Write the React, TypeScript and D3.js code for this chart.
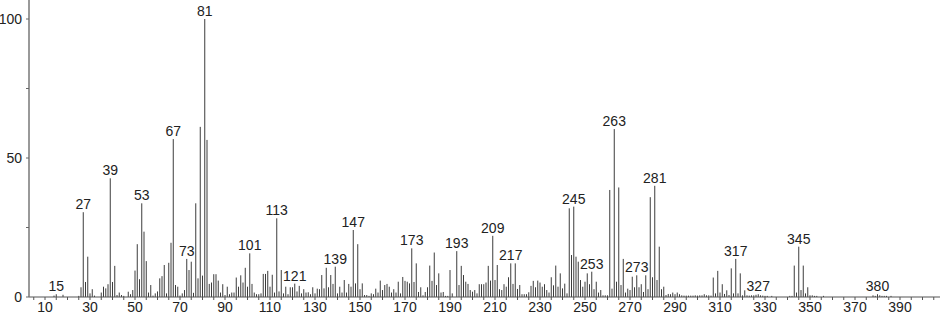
import React from "react";
import * as d3 from "d3";

const mz: number[] = [
  14, 15, 18, 25, 26, 27, 28, 29, 30, 31, 32, 35, 36, 37, 38, 39, 40, 41, 42, 43, 44, 45, 47, 48, 49,
  50, 51, 52, 53, 54, 55, 56, 57, 58, 59, 60, 61, 62, 63, 64, 65, 66, 67, 68, 69, 70, 71, 72, 73, 74,
  75, 76, 77, 78, 79, 80, 81, 82, 83, 84, 85, 86, 87, 88, 89, 90, 91, 92, 93, 94, 95, 96, 97, 98, 99,
  100, 101, 102, 103, 104, 105, 106, 107, 108, 109, 110, 111, 112, 113, 114, 115, 116, 117, 118, 119,
  120, 121, 122, 123, 124, 125, 126, 127, 128, 129, 130, 131, 132, 133, 134, 135, 136, 137, 138, 139,
  140, 141, 142, 143, 144, 145, 146, 147, 148, 149, 150, 151, 152, 153, 154, 155, 156, 157, 158, 159,
  160, 161, 162, 163, 164, 165, 166, 167, 168, 169, 170, 171, 172, 173, 174, 175, 176, 177, 178, 179,
  180, 181, 182, 183, 184, 185, 186, 187, 188, 189, 190, 191, 193, 194, 195, 196, 197, 198, 199,
  200, 201, 202, 203, 204, 205, 206, 207, 208, 209, 210, 211, 212, 213, 214, 215, 216, 217, 218, 219,
  220, 221, 222, 223, 224, 225, 226, 227, 228, 229, 230, 231, 232, 233, 234, 235, 236, 237, 238, 239,
  240, 241, 242, 243, 244, 245, 246, 247, 248, 249, 250, 251, 252, 253, 254, 255, 256, 257, 258, 259,
  260, 261, 262, 263, 264, 265, 266, 267, 268, 269, 270, 271, 272, 273, 274, 275, 276, 277, 278, 279,
  280, 281, 282, 283, 284, 285, 286, 287, 288, 289, 290, 291, 292, 293, 294, 295, 296, 297, 298, 299,
  300, 301, 302, 303, 304, 305, 306, 307, 308, 309, 310, 311, 312, 313, 314, 315, 316, 317, 318, 319,
  320, 321, 322, 323, 324, 325, 326, 327, 328, 329, 330, 331, 333, 341, 342, 343, 344, 345, 346, 347,
  348, 349, 350, 351, 352, 353, 356, 378, 379, 380, 381, 382, 383, 384, 386,
];

const intensity: number[] = [
  0.5, 1, 0.8, 0.4, 3.5, 30.5, 5.4, 14.5, 1.3, 2.8, 0.5, 1.6, 3.7, 3.1, 4.6, 42.7, 5.4, 11.2, 0.7, 1.6, 0.7, 0.4, 1.9, 1, 2.5,
  9.5, 19, 6.4, 33.7, 23.5, 12.9, 1.6, 4.3, 0.5, 1.3, 2, 6.7, 7.5, 11.5, 1.3, 12.3, 19.5, 56.8, 4.3, 3.7, 0.5, 1.3, 2.5, 13.7, 9.7,
  12.7, 1.5, 33.7, 6.7, 61.2, 7.7, 100, 56.5, 4.7, 5.2, 8.2, 8.2, 5.9, 1.6, 4.6, 0.7, 3.7, 1, 1.6, 1.6, 7, 3.7, 7.8, 5.2, 10.5,
  3.7, 15.7, 4.7, 1.6, 1, 1, 1.3, 8.3, 8.3, 9.4, 3.7, 8, 1.6, 28.3, 2, 9.7, 1.3, 3.7, 1, 3.5,
  3.5, 4.8, 2, 4, 1.3, 2.8, 1.6, 1.7, 1, 3.5, 1.3, 3, 2.8, 7.9, 3.1, 10.5, 3.5, 7.9, 4.7, 10.9,
  1.3, 3.7, 1.6, 6.1, 1.6, 4.7, 3.7, 24.1, 4.9, 19, 2.8, 4.9, 0.7, 0.7, 0.4, 1.3, 1, 3, 1.6, 5.9,
  2.5, 4.3, 4.7, 3.7, 1.6, 2.8, 1.6, 5.5, 1.3, 7.2, 5.8, 5.5, 4.9, 17.5, 5.4, 12.1, 1.8, 3.5, 0.6, 1.8,
  3.5, 11.3, 5.8, 16, 4.3, 8.5, 1.6, 1.8, 0.4, 0.4, 9.7, 1.3, 16.5, 4.3, 11.2, 7.9, 5.5, 4.7, 2.5,
  1.9, 2.5, 1.3, 4.6, 4.6, 4.6, 5.2, 11.2, 5.9, 22, 6.1, 11.5, 2.8, 2.5, 4.6, 3.7, 7.1, 12.1, 4.7, 12.1,
  2.9, 4.3, 1, 1, 1, 1.7, 4, 5.8, 3.5, 5.9, 5.2, 3.7, 4.6, 2.5, 1.6, 7.1, 4.2, 11.3, 3.7, 8.5,
  3.1, 4.8, 1.3, 31.9, 15.1, 32.5, 14.5, 12.7, 6.1, 3.7, 5.5, 8.5, 4.6, 9.1, 2.8, 5.5, 1.6, 2.5, 0.6, 0.6,
  0.6, 38.5, 3, 60.4, 5.5, 39.4, 4.3, 13.7, 1.6, 3, 2.5, 7.3, 3.5, 7.8, 3.5, 4.6, 1.8, 7.8, 2.8, 35.9,
  7.1, 40, 6.1, 18.1, 2.8, 3.7, 0.7, 1.1, 1, 1.6, 1, 1.6, 1, 0.6, 0.5, 0.5, 0.5, 0.5, 0.5, 0.6,
  0.5, 0.6, 0.6, 1, 0.6, 0.6, 0.5, 7, 1.3, 9.4, 1.6, 4.6, 1.1, 2.4, 0.7, 10.3, 1.3, 13.7, 1.3, 8.5,
  0.6, 2.4, 0.6, 0.5, 0.6, 0.6, 0.8, 1, 0.6, 0.5, 0.4, 0.4, 0.4, 0.4, 0.4, 11.3, 1.6, 18.1, 2.5, 11.3,
  1.3, 3.5, 0.6, 0.6, 0.4, 0.4, 0.4, 0.6, 0.4, 1, 0.6, 0.4, 0.4, 0.4, 0.4,
];

const labeledPeaks: number[] = [
  15, 27, 39, 53, 67, 73, 81, 101, 113, 121, 139, 147, 173, 193, 209, 217, 245, 253, 263, 273, 281, 317, 327, 345, 380,
];

const xTickLabels: number[] = [10, 30, 50, 70, 90, 110, 130, 150, 170, 190, 210, 230, 250, 270, 290, 310, 330, 350, 370, 390];
const yTickLabels: number[] = [0, 50, 100];

const W = 940;
const H = 320;

export default function App() {
  const x = d3.scaleLinear().domain([10, 390]).range([45, 900]);
  const y = d3.scaleLinear().domain([0, 100]).range([297, 19]);
  const xLeft = x.invert(29);
  const xRight = x.invert(940);
  const yTop = y.invert(0);
  const minorX = d3.range(Math.ceil(xLeft / 5) * 5, xRight, 5);
  const minorY = d3.range(0, 101, 25);
  const valueOf = new Map(mz.map((m, i) => [m, intensity[i]]));
  const font = "'Liberation Sans', Arial, sans-serif";

  return (
    <svg
      width={W}
      height={H}
      style={{ position: "absolute", left: 0, top: 0, background: "#fff" }}
      fontFamily={font}
    >
      {/* bars */}
      <g stroke="#3c3c3c" strokeWidth={1}>
        {mz.map((m, i) => (
          <line key={m} x1={x(m)} x2={x(m)} y1={y(0)} y2={y(intensity[i])} />
        ))}
      </g>
      {/* axes */}
      <line x1={x(xLeft)} x2={x(xRight)} y1={y(0)} y2={y(0)} stroke="#555" strokeWidth={1.2} />
      <line x1={29} x2={29} y1={y(0)} y2={y(yTop)} stroke="#777" strokeWidth={1.5} />
      {minorX.map((t) => (
        <line key={"xt" + t} x1={x(t)} x2={x(t)} y1={y(0)} y2={y(0) + 3} stroke="#555" strokeWidth={1} />
      ))}
      {minorY.map((t) => (
        <line key={"yt" + t} x1={26} x2={29} y1={y(t)} y2={y(t)} stroke="#666" strokeWidth={1} />
      ))}
      {xTickLabels.map((t) => (
        <text key={"xl" + t} x={x(t)} y={312} fontSize={14} textAnchor="middle" fill="#222">
          {t}
        </text>
      ))}
      {yTickLabels.map((t) => (
        <text key={"yl" + t} x={22} y={y(t)} dy="0.35em" fontSize={14} textAnchor="end" fill="#222">
          {t}
        </text>
      ))}
      {labeledPeaks.map((m) => (
        <text
          key={"pl" + m}
          x={x(m)}
          y={y(valueOf.get(m) ?? 0) - 3}
          fontSize={14}
          textAnchor="middle"
          fill="#222"
        >
          {m}
        </text>
      ))}
    </svg>
  );
}
